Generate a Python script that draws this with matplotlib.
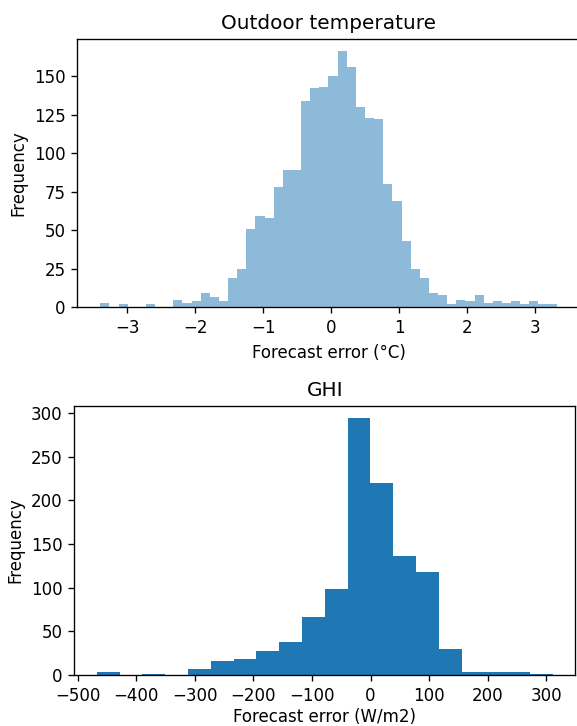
import numpy as np
import matplotlib
matplotlib.use("Agg")
import matplotlib.pyplot as plt

# Outdoor temperature forecast error histogram (50 bins)
temp_range = (-3.40, 3.32)
temp_counts = [3, 0, 2, 0, 0, 2, 0, 0, 5, 3,
               4, 9, 7, 4, 19, 25, 51, 59, 58, 78,
               89, 89, 134, 142, 143, 150, 166, 156, 130, 123,
               122, 80, 69, 43, 25, 19, 9, 8, 2, 5,
               4, 8, 3, 4, 3, 4, 2, 4, 2, 2]

# GHI forecast error histogram (20 bins)
ghi_range = (-467.6, 311.2)
ghi_counts = [3, 0, 1, 0, 7, 16, 18, 27, 38, 67,
              98, 294, 220, 136, 118, 30, 3, 3, 3, 1]

DPI = 120
fig = plt.figure(figsize=(577 / DPI, 726 / DPI), dpi=DPI)

ax1 = fig.add_axes([0.1343, 0.5767, 0.870, 0.3702])
e1 = np.linspace(temp_range[0], temp_range[1], len(temp_counts) + 1)
c1 = (e1[:-1] + e1[1:]) / 2
ax1.hist(c1, bins=e1, weights=temp_counts, alpha=0.5, color="C0")
ax1.set_title("Outdoor temperature", fontsize=12)
ax1.set_xlabel("Forecast error (°C)")
ax1.set_ylabel("Frequency")
ax1.set_yticks([0, 25, 50, 75, 100, 125, 150])

ax2 = fig.add_axes([0.1282, 0.0702, 0.8692, 0.3712])
e2 = np.linspace(ghi_range[0], ghi_range[1], len(ghi_counts) + 1)
c2 = (e2[:-1] + e2[1:]) / 2
ax2.hist(c2, bins=e2, weights=ghi_counts, color="C0")
ax2.set_title("GHI", fontsize=12)
ax2.set_xlabel("Forecast error (W/m2)", labelpad=2)
ax2.set_ylabel("Frequency")

fig.savefig("out.png", dpi=DPI)
